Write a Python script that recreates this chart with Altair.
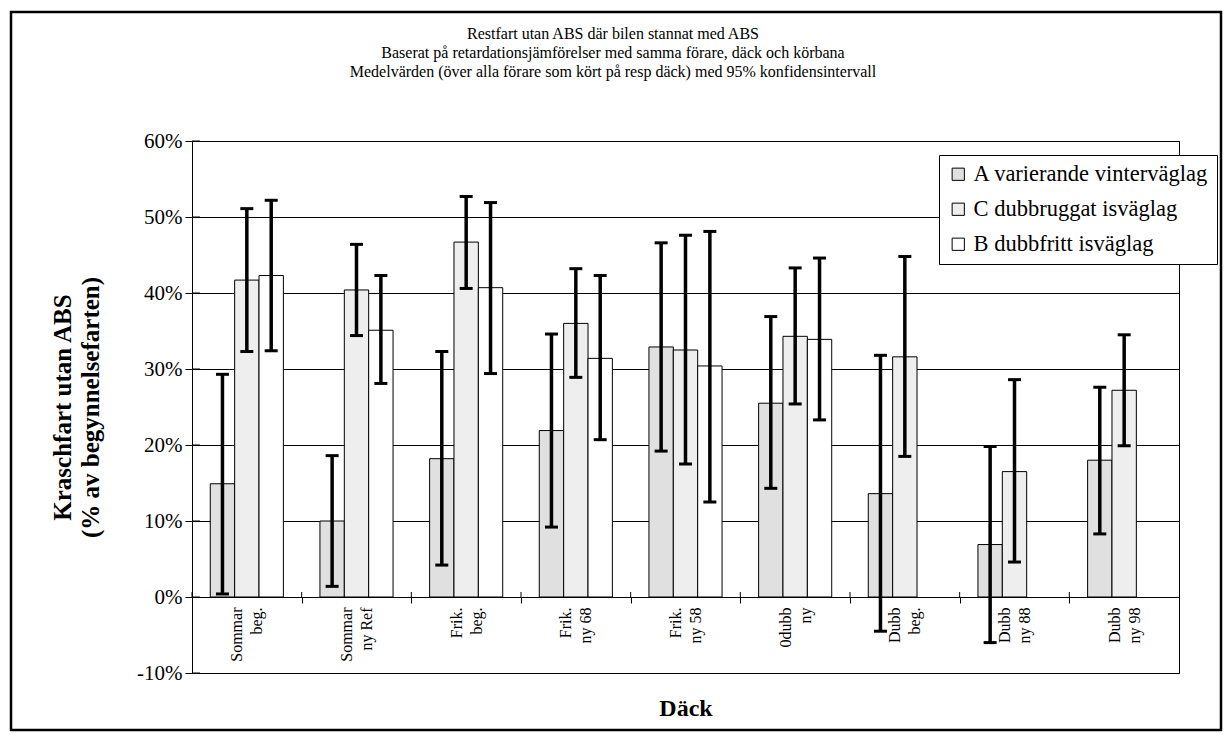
import altair as alt
import pandas as pd

categories = ["Sommar|beg.", "Sommar|ny Ref", "Frik.|beg.", "Frik.|ny 68", "Frik.|ny 58",
              "0dubb|ny", "Dubb|beg.", "Dubb|ny 88", "Dubb|ny 98"]
series = ["A varierande vinterväglag", "C dubbruggat isväglag", "B dubbfritt isväglag"]

a_mean = [14.9, 10.0, 18.2, 21.9, 32.9, 25.5, 13.6, 6.9, 18.0]
a_low = [0.4, 1.4, 4.2, 9.2, 19.2, 14.3, -4.5, -6.0, 8.3]
a_high = [29.3, 18.6, 32.3, 34.6, 46.6, 36.9, 31.8, 19.8, 27.6]

c_mean = [41.7, 40.4, 46.7, 36.0, 32.5, 34.3, 31.6, 16.5, 27.2]
c_low = [32.3, 34.4, 40.6, 28.9, 17.5, 25.4, 18.5, 4.6, 19.9]
c_high = [51.1, 46.4, 52.7, 43.2, 47.6, 43.3, 44.8, 28.6, 34.5]

b_mean = [42.3, 35.1, 40.7, 31.4, 30.4, 33.9, None, None, None]
b_low = [32.4, 28.1, 29.4, 20.7, 12.5, 23.3, None, None, None]
b_high = [52.2, 42.3, 51.9, 42.3, 48.1, 44.6, None, None, None]

y_ticks = [-10, 0, 10, 20, 30, 40, 50, 60]
fills = ["#e0e0e0", "#eeeeee", "#ffffff"]

title_lines = [
    "Restfart utan ABS där bilen stannat med ABS",
    "Baserat på retardationsjämförelser med samma förare, däck och körbana",
    "Medelvärden (över alla förare som kört på resp däck) med 95% konfidensintervall",
]

rows = []
for s, m, lo, hi in zip(series, [a_mean, c_mean, b_mean], [a_low, c_low, b_low], [a_high, c_high, b_high]):
    for c, mv, lv, hv in zip(categories, m, lo, hi):
        if mv is None:
            continue
        rows.append({"cat": c, "series": s, "mean": mv, "lo": lv, "hi": hv})
df = pd.DataFrame(rows)
ticks_df = pd.DataFrame({"t": y_ticks})
cats_df = pd.DataFrame({"cat": categories})

FONT = "Liberation Serif"
W, H = 987, 532
LEFT, TOP = 192, 141
Y0 = H * 60 / 70  # pixel row of the 0% axis inside the plot

x_enc = alt.X("cat:N", sort=categories,
              scale=alt.Scale(domain=categories, paddingInner=0, paddingOuter=0),
              axis=alt.Axis(title="Däck", offset=-76, tickBand="extent", tickSize=6,
                            labelExpr="split(datum.label, '|')", labelAngle=270,
                            labelAlign="right", labelBaseline="middle",
                            labelFontSize=16, labelLineHeight=20, labelPadding=4,
                            labelOffset=-10,
                            labelOverlap=False, labelColor="black", labelFont=FONT,
                            domainColor="black", tickColor="black",
                            titleFont=FONT, titleFontSize=24, titleFontWeight="bold",
                            titleColor="black", titleX=W / 2, titleY=111,
                            titleBaseline="middle", titleAlign="center"))
x_plain = alt.X("cat:N", sort=categories)
xo_enc = alt.XOffset("series:N", sort=series,
                     scale=alt.Scale(domain=series, paddingOuter=0.75, paddingInner=0))

y_scale = alt.Scale(domain=[-10, 60], nice=False, zero=False)

bars = alt.Chart(df).mark_bar(stroke="black", strokeWidth=1).encode(
    x=x_enc,
    xOffset=xo_enc,
    y=alt.Y("mean:Q", scale=y_scale,
            axis=alt.Axis(values=y_ticks, labelExpr="datum.value + '%'",
                          title=["Kraschfart utan ABS", "(% av begynnelsefarten)"],
                          grid=True, gridColor="black", gridWidth=1, gridOpacity=1,
                          domainColor="black", tickColor="black", tickSize=7,
                          labelFont=FONT, labelFontSize=21, labelColor="black", labelPadding=3,
                          titleFont=FONT, titleFontSize=25, titleFontWeight="bold",
                          titleColor="black", titleAngle=270, titleX=-130, titleY=H / 2,
                          titleAlign="center", titleBaseline="middle", titleLineHeight=28)),
    color=alt.Color("series:N", sort=series,
                    scale=alt.Scale(domain=series, range=fills),
                    legend=alt.Legend(title=None, orient="none", legendX=747, legendY=14,
                                      direction="vertical", fillColor="white",
                                      strokeColor="black", padding=8,
                                      symbolType="square", symbolSize=150,
                                      symbolStrokeColor="black", symbolStrokeWidth=1,
                                      labelFont=FONT, labelFontSize=22.5, labelColor="black",
                                      labelLimit=0, rowPadding=12, labelOffset=4)),
)

err = alt.Chart(df).mark_rule(color="black", strokeWidth=3.5).encode(
    x=x_plain, xOffset=alt.XOffset("series:N", sort=series),
    y=alt.Y("lo:Q"), y2="hi:Q",
)

caps = alt.Chart(df).transform_fold(["lo", "hi"], as_=["k", "v"]).mark_tick(
    color="black", thickness=3, size=13, opacity=1
).encode(
    x=x_plain, xOffset=alt.XOffset("series:N", sort=series),
    y=alt.Y("v:Q"),
)

# inner halves of the crossing tick marks
y_inner_ticks = alt.Chart(ticks_df).mark_rule(color="black", strokeWidth=1).encode(
    y=alt.Y("t:Q"), x=alt.value(0), x2=alt.value(8),
)
x_inner_ticks = alt.Chart(cats_df).mark_rule(color="black", strokeWidth=1).encode(
    x=alt.X("cat:N", sort=categories, bandPosition=0), y=alt.value(Y0 - 5), y2=alt.value(Y0),
)

one = pd.DataFrame({"f": [0]})

frame = alt.Chart(one).mark_rect(
    filled=False, stroke="black", strokeWidth=2.5, clip=False
).encode(
    x=alt.value(11 - LEFT), x2=alt.value(1221 - LEFT),
    y=alt.value(12 - TOP), y2=alt.value(730 - TOP),
)

title_layers = []
for line, ypix in zip(title_lines, [34, 53, 72]):
    title_layers.append(
        alt.Chart(one).mark_text(font=FONT, fontSize=16, color="black",
                                 align="center", baseline="middle", clip=False)
        .encode(x=alt.value(613 - LEFT), y=alt.value(ypix - TOP), text=alt.value(line))
    )

chart = alt.layer(bars, err, caps, y_inner_ticks, x_inner_ticks, frame, *title_layers).properties(
    width=W, height=H,
    padding={"left": LEFT, "top": TOP, "right": 1228 - LEFT - W, "bottom": 736 - TOP - H},
    autosize=alt.AutoSizeParams(type="none"),
).configure(font=FONT).configure_view(stroke="black", strokeWidth=1)

chart.save("out.html", embed_options={"renderer": "svg", "actions": False})
